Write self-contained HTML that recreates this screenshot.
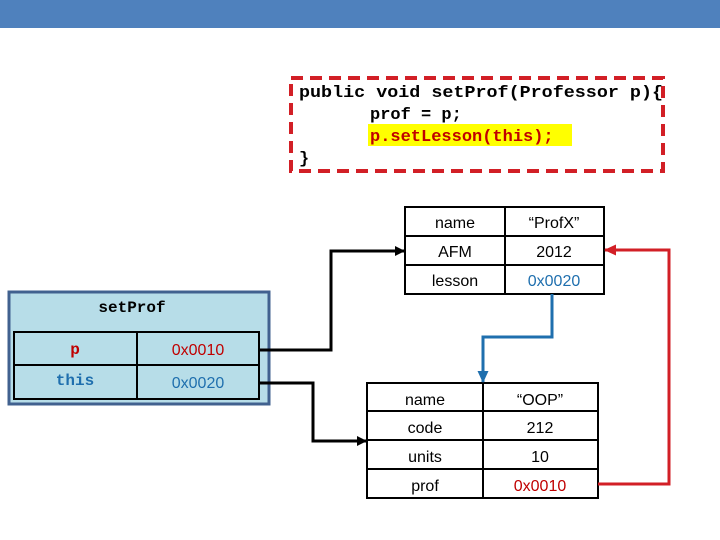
<!DOCTYPE html>
<html><head><meta charset="utf-8"><style>body{margin:0;background:#fff}svg{display:block}</style></head><body>
<svg width="720" height="540" xmlns="http://www.w3.org/2000/svg">
<defs>
<marker id="ak" markerWidth="10" markerHeight="10" refX="9" refY="5" orient="auto" markerUnits="userSpaceOnUse"><path d="M0,0 L10,5 L0,10 z" fill="#000"/></marker>
<marker id="ab" markerWidth="12" markerHeight="11" refX="11" refY="5.5" orient="auto" markerUnits="userSpaceOnUse"><path d="M0,0 L12,5.5 L0,11 z" fill="#1f6fae"/></marker>
<marker id="ar" markerWidth="12" markerHeight="11" refX="11" refY="5.5" orient="auto" markerUnits="userSpaceOnUse"><path d="M0,0 L12,5.5 L0,11 z" fill="#d21f26"/></marker>
</defs>
<rect x="0" y="0" width="720" height="28" fill="#4f81bd"/>
<rect x="291" y="78" width="372" height="93" fill="none" stroke="#d21f26" stroke-width="4" stroke-dasharray="12,7"/>
<rect x="368" y="124" width="204" height="22" fill="#ffff00"/>
<g font-family="Liberation Mono, monospace" font-weight="bold" font-size="17" xml:space="preserve">
<text x="299" y="97" textLength="364" lengthAdjust="spacingAndGlyphs">public void setProf(Professor p){</text>
<text x="370" y="119">prof = p;</text>
<text x="370" y="141" fill="#c00000">p.setLesson(this);</text>
<text x="299" y="163">}</text>
</g>
<g font-family="Liberation Sans, sans-serif" font-size="16" text-anchor="middle">
<rect x="405" y="207" width="199" height="87" fill="#fff" stroke="#000" stroke-width="2"/>
<line x1="505" y1="207" x2="505" y2="294" stroke="#000" stroke-width="2"/>
<line x1="405" y1="236" x2="604" y2="236" stroke="#000" stroke-width="2"/>
<line x1="405" y1="265" x2="604" y2="265" stroke="#000" stroke-width="2"/>
<text x="455" y="228">name</text><text x="554" y="228">“ProfX”</text>
<text x="455" y="257">AFM</text><text x="554" y="257">2012</text>
<text x="455" y="286">lesson</text><text x="554" y="286" fill="#1f6fae">0x0020</text>
<rect x="367" y="383" width="231" height="115" fill="#fff" stroke="#000" stroke-width="2"/>
<line x1="483" y1="383" x2="483" y2="498" stroke="#000" stroke-width="2"/>
<line x1="367" y1="411" x2="598" y2="411" stroke="#000" stroke-width="2"/>
<line x1="367" y1="440" x2="598" y2="440" stroke="#000" stroke-width="2"/>
<line x1="367" y1="469" x2="598" y2="469" stroke="#000" stroke-width="2"/>
<text x="425" y="405">name</text><text x="540" y="405">“OOP”</text>
<text x="425" y="433">code</text><text x="540" y="433">212</text>
<text x="425" y="462">units</text><text x="540" y="462">10</text>
<text x="425" y="491">prof</text><text x="540" y="491" fill="#c00000">0x0010</text>
</g>
<rect x="9" y="292" width="260" height="112" fill="#b7dde8" stroke="#41618f" stroke-width="3"/>
<rect x="14" y="332" width="245" height="67" fill="none" stroke="#000" stroke-width="2"/>
<line x1="137" y1="332" x2="137" y2="399" stroke="#000" stroke-width="2"/>
<line x1="14" y1="365" x2="259" y2="365" stroke="#000" stroke-width="2"/>
<g font-family="Liberation Mono, monospace" font-weight="bold" font-size="16" text-anchor="middle">
<text x="132" y="312">setProf</text>
<text x="75" y="354" fill="#c00000">p</text>
<text x="75" y="385" fill="#1f6fae">this</text>
</g>
<g font-family="Liberation Sans, sans-serif" font-size="16" text-anchor="middle">
<text x="198" y="355" fill="#c00000">0x0010</text>
<text x="198" y="388" fill="#1f6fae">0x0020</text>
</g>
<polyline points="259,350 331,350 331,251 404,251" fill="none" stroke="#000" stroke-width="3" marker-end="url(#ak)"/>
<polyline points="259,383 313,383 313,441 366,441" fill="none" stroke="#000" stroke-width="3" marker-end="url(#ak)"/>
<polyline points="552,294 552,337 483,337 483,382" fill="none" stroke="#1f6fae" stroke-width="3" marker-end="url(#ab)"/>
<polyline points="598,484 669,484 669,250 605,250" fill="none" stroke="#d21f26" stroke-width="3" marker-end="url(#ar)"/>
</svg>
</body></html>
